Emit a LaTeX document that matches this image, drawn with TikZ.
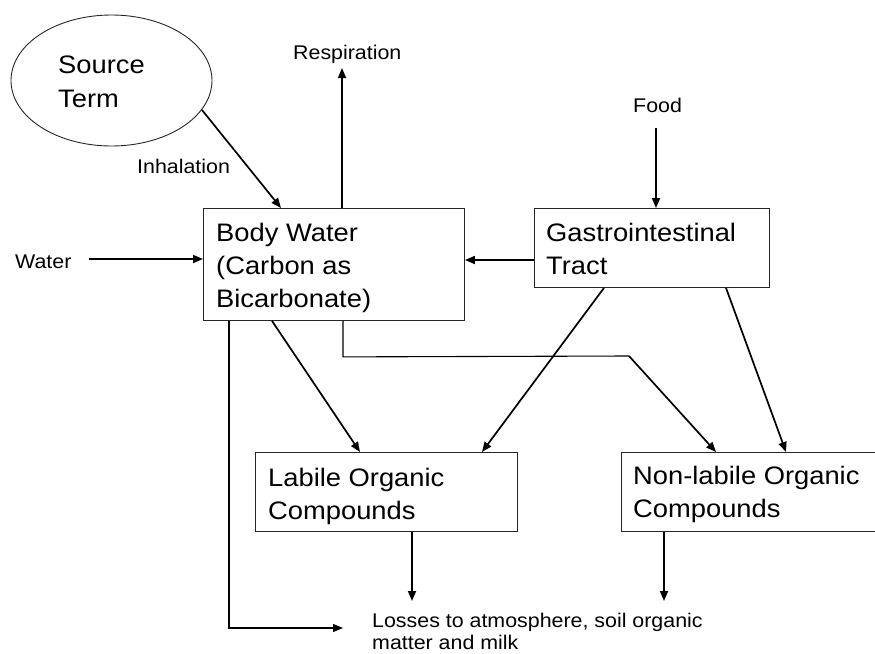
\documentclass[tikz,border=0pt]{standalone}
\usepackage{fontspec}
\setmainfont{Liberation Sans}[FakeStretch=1.08]
\usetikzlibrary{arrows.meta,shapes.geometric,calc}
\begin{document}
\begin{tikzpicture}[x=1pt,y=-1pt,
  box/.style={draw=black!85, line width=0.9pt, rectangle, inner sep=0pt, anchor=north west},
  big/.style={font=\fontsize{25.3}{33}\selectfont, inner sep=0pt, anchor=base west},
  small/.style={font=\fontsize{19.8}{22.5}\selectfont, inner sep=0pt, anchor=base west},
  arr/.style={line width=1.7pt, -{Triangle[length=10pt,width=8pt]}},
  plain/.style={line width=1.1pt}]
\useasboundingbox (0,0) rectangle (875,653);

% shapes
\node[draw=black!85, line width=0.9pt, ellipse, minimum width=201pt, minimum height=131pt, inner sep=0pt] (src) at (111.5,80.5) {};
\node[box, minimum width=261pt, minimum height=112pt] (bw) at (203,208) {};
\node[box, minimum width=235pt, minimum height=79pt] (gi) at (534,208) {};
\node[box, minimum width=262pt, minimum height=79pt] (lab) at (255,452) {};
\node[box, minimum width=270pt, minimum height=79pt] (nl) at (621,452) {};

% texts
\node[big] (srct) at (58,73) {\vtop{\baselineskip=34pt\hbox{Source}\hbox{Term}}};
\node[big] (bwt) at (216,241) {\vtop{\hbox{Body Water}\hbox{(Carbon as}\hbox{Bicarbonate)}}};
\node[big] (git) at (546,241) {\vtop{\hbox{Gastrointestinal}\hbox{Tract}}};
\node[big] (labt) at (268,486) {\vtop{\hbox{Labile Organic}\hbox{Compounds}}};
\node[big] (nlt) at (633,484) {\vtop{\hbox{Non-labile Organic}\hbox{Compounds}}};
\node[small] (resp) at (293,59) {Respiration};
\node[small] (inh) at (137,173) {Inhalation};
\node[small] (food) at (633,112) {Food};
\node[small] (water) at (15,268) {Water};
\node[small] (loss) at (372,627) {\vtop{\hbox{Losses to atmosphere, soil organic}\hbox{matter and milk}}};

% free ends
\coordinate (respend) at (342,68);
\coordinate (foodstart) at (656,128);
\coordinate (waterstart) at (89,259);
\coordinate (lossL) at (412,601);
\coordinate (lossR) at (664,601);
\coordinate (lossB) at (343,628);

% connectors
\draw[arr] (src.-18.6) -- ($(bw.north west)+(78,0)$);
\draw[arr] ($(bw.north west)+(139,0)$) -- (respend);
\draw[arr] (foodstart) -- ($(gi.north west)+(122,0)$);
\draw[arr] ($(gi.north west)+(0,52)$) -- ($(bw.north east)+(0,52)$);
\draw[arr] (waterstart) -- ($(bw.north west)+(0,51)$);
\draw[arr] ($(bw.south west)+(69,0)$) -- ($(lab.north west)+(105,0)$);
\draw[arr] ($(gi.south west)+(70,0)$) -- ($(lab.north west)+(227,0)$);
\draw[plain] ($(bw.south west)+(140,0)$) -- ++(0,36) -- (629,356);
\draw[arr] (629,356) -- ($(nl.north west)+(95,0)$);
\draw[arr] ($(gi.south west)+(192,0)$) -- ($(nl.north west)+(165,0)$);
\draw[arr] ($(lab.south west)+(157,0)$) -- (lossL);
\draw[arr] ($(nl.south west)+(43,0)$) -- (lossR);
\draw[plain, -{Triangle[length=10pt,width=8pt]}] ($(bw.south west)+(26,0)$) |- (lossB);
\end{tikzpicture}
\end{document}
